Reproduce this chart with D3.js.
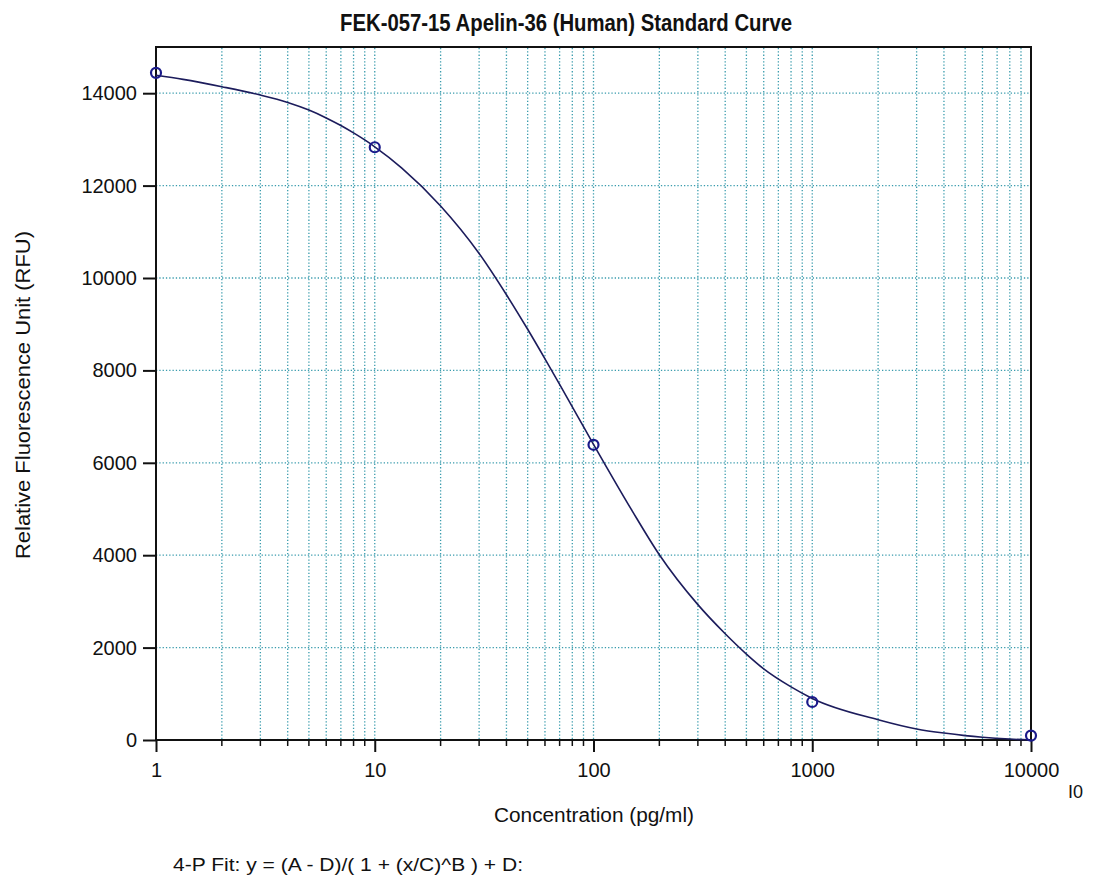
<!DOCTYPE html>
<html><head><meta charset="utf-8">
<script src="https://cdn.jsdelivr.net/npm/d3@7"></script>
<style>
body{margin:0;background:#fff;}
text{font-family:"Liberation Sans",Arial,sans-serif;fill:#111;}
</style>
</head><body>
<svg id="c" width="1093" height="881"></svg>
<script>
// ---- data ----
const titleText = "FEK-057-15 Apelin-36 (Human) Standard Curve";
const xLabelText = "Concentration (pg/ml)";
const yLabelText = "Relative Fluorescence Unit (RFU)";
const fitNoteText = "4-P Fit: y = (A - D)/( 1 + (x/C)^B ) + D:";
const strayLabel = "I0";

const standardConc = [1, 10, 100, 1000, 10000];
const standardRFU  = [14440, 12830, 6390, 823, 95];

// fitted curve
const fitConc = [1, 1.33, 2, 3, 4, 5, 6, 7, 8, 9, 10, 13.3, 20, 30, 40, 50, 60, 70, 80, 90, 100,
                 150, 200, 300, 400, 500, 600, 800, 1000, 2000, 3000, 4000, 5000, 6000, 8000, 10000];
const fitRFU  = [14390, 14300, 14140, 13960, 13800, 13635, 13465, 13300, 13140, 12988, 12840,
                 12380, 11560, 10532, 9638, 8890, 8250, 7696, 7210, 6781, 6400,
                 4966, 4010, 2930, 2300, 1860, 1540, 1150, 900, 440, 240, 150, 95, 60, 20, 0];

const xTickValues = [1, 10, 100, 1000, 10000];
const xTickLabels = ["1", "10", "100", "1000", "10000"];
const yTickValues = [0, 2000, 4000, 6000, 8000, 10000, 12000, 14000];
const yTickLabels = ["0", "2000", "4000", "6000", "8000", "10000", "12000", "14000"];
const xDomain = [1, 10000];
const yDomain = [0, 15000];

// ---- drawing ----
const svg = d3.select("#c");
const L = 156, R = 1031, T = 47, B = 740;
const x = d3.scaleLog().domain(xDomain).range([L, R]);
const y = d3.scaleLinear().domain(yDomain).range([B, T]);

// grid values (all 1..9 multiples inside the plot)
const gridX = [];
[1, 10, 100, 1000].forEach(d => { for (let k = 1; k <= 9; k++) { const v = d * k; if (v > 1 && v < 10000) gridX.push(v); } });
const minorX = gridX.filter(v => !xTickValues.includes(v));

const grid = svg.append("g").attr("stroke", "#3a9cad").attr("stroke-width", 1.3)
  .attr("stroke-dasharray", "1.3,2");
grid.selectAll("line.gx").data(gridX).join("line").attr("class", "gx")
  .attr("x1", d => x(d)).attr("x2", d => x(d)).attr("y1", T + 1).attr("y2", B);
grid.selectAll("line.gy").data(yTickValues.filter(v => v > 0)).join("line").attr("class", "gy")
  .attr("x1", L).attr("x2", R).attr("y1", d => y(d)).attr("y2", d => y(d));

// frame
svg.append("rect").attr("x", L).attr("y", T).attr("width", R - L).attr("height", B - T)
  .attr("fill", "none").attr("stroke", "#111").attr("stroke-width", 2);

// y axis
const yAxis = svg.append("g").attr("transform", `translate(${L},0)`)
  .call(d3.axisLeft(y).tickValues(yTickValues).tickFormat((d, i) => yTickLabels[i])
    .tickSize(13).tickPadding(6));
yAxis.select(".domain").remove();
yAxis.selectAll("line").attr("stroke", "#111").attr("stroke-width", 2);
yAxis.selectAll("text").attr("font-size", 20).attr("fill", "#111")
  .attr("font-family", '"Liberation Sans",Arial,sans-serif');

// x axis (major)
const xAxis = svg.append("g").attr("transform", `translate(0,${B})`)
  .call(d3.axisBottom(x).tickValues(xTickValues).tickFormat((d, i) => xTickLabels[i])
    .tickSize(12).tickPadding(11));
xAxis.select(".domain").remove();
xAxis.selectAll("line").attr("stroke", "#111").attr("stroke-width", 2);
xAxis.selectAll("text").attr("font-size", 20).attr("fill", "#111")
  .attr("font-family", '"Liberation Sans",Arial,sans-serif');
// minor ticks
svg.append("g").selectAll("line").data(minorX).join("line")
  .attr("x1", d => x(d)).attr("x2", d => x(d)).attr("y1", B).attr("y2", B + 6)
  .attr("stroke", "#111").attr("stroke-width", 1.5);

// curve
const line = d3.line().x((d, i) => x(fitConc[i])).y((d, i) => y(fitRFU[i])).curve(d3.curveMonotoneX);
svg.append("path").datum(fitRFU).attr("d", line).attr("fill", "none")
  .attr("stroke", "#1c1c5c").attr("stroke-width", 1.6);

// points
svg.append("g").selectAll("circle").data(standardRFU).join("circle")
  .attr("cx", (d, i) => x(standardConc[i])).attr("cy", d => y(d)).attr("r", 5)
  .attr("fill", "none").attr("stroke", "#1a1a8a").attr("stroke-width", 2.2);

// texts
svg.append("text").attr("x", 340).attr("y", 31).attr("font-size", 24).attr("font-weight", "bold")
  .attr("textLength", 452).attr("lengthAdjust", "spacingAndGlyphs").text(titleText);
svg.append("text").attr("x", 594).attr("y", 822).attr("text-anchor", "middle").attr("font-size", 20)
  .attr("textLength", 200).attr("lengthAdjust", "spacingAndGlyphs").text(xLabelText);
svg.append("text").attr("transform", "translate(30,395) rotate(-90)").attr("text-anchor", "middle")
  .attr("font-size", 20).attr("textLength", 328).attr("lengthAdjust", "spacingAndGlyphs").text(yLabelText);
svg.append("text").attr("x", 173).attr("y", 871).attr("font-size", 19)
  .attr("textLength", 350).attr("lengthAdjust", "spacingAndGlyphs").text(fitNoteText);
svg.append("text").attr("x", 1068).attr("y", 798).attr("font-size", 18).text(strayLabel);
</script>
</body></html>
